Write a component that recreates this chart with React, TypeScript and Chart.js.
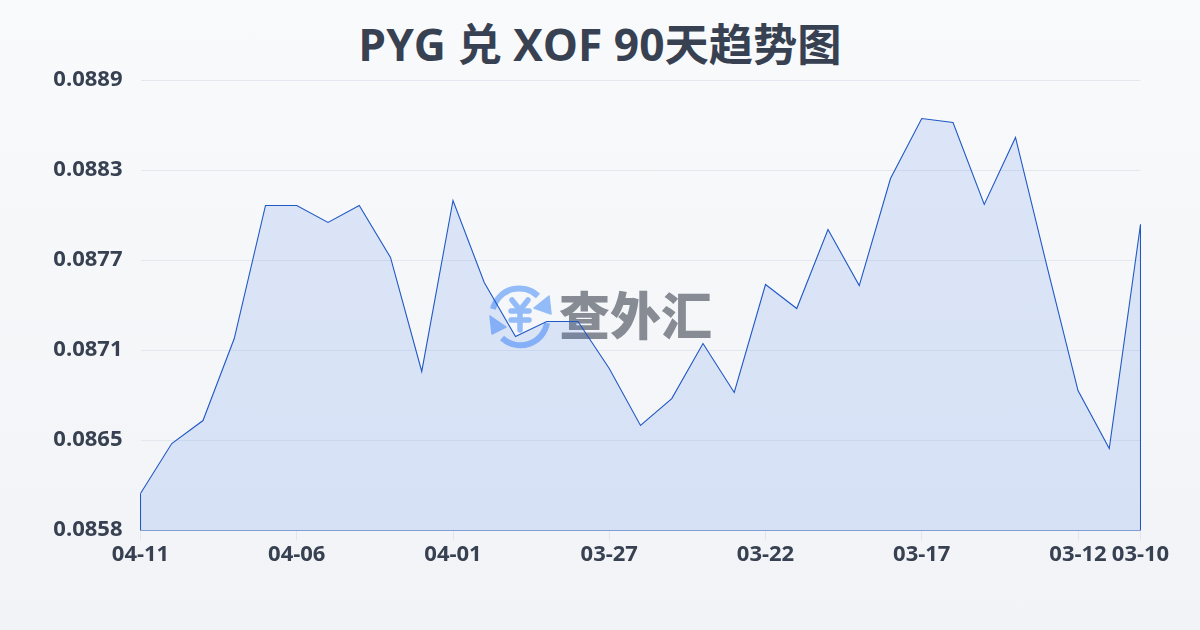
import React, { useEffect, useRef } from "react";
import { Chart, registerables } from "chart.js";

Chart.register(...registerables);

const categories = ["04-11","04-10","04-09","04-08","04-07","04-06","04-05","04-04","04-03","04-02","04-01","03-31","03-30","03-29","03-28","03-27","03-26","03-25","03-24","03-23","03-22","03-21","03-20","03-19","03-18","03-17","03-16","03-15","03-14","03-13","03-12","03-11","03-10"];
const rates = [0.086094,0.086437,0.086595,0.087158,0.088072,0.088072,0.087955,0.088072,0.087715,0.086932,0.088106,0.087543,0.087172,0.087275,0.087275,0.086952,0.086561,0.086746,0.087124,0.086788,0.087529,0.087364,0.087907,0.087522,0.088257,0.088669,0.088642,0.088079,0.088539,0.08766,0.086801,0.086403,0.087941];
const yTicks = [0.08584,0.086458,0.087076,0.087694,0.088312,0.08893];
const shownDates = ["04-11","04-06","04-01","03-27","03-22","03-17","03-12","03-10"];
const titleText = "PYG 兑 XOF 90天趋势图";
const watermarkText = "查外汇";

const FONT = '"Open Sans","Noto Sans CJK SC",sans-serif';
const INK = "#374151";
const LINE = "#2058c4";
const LOGO = "#93bbf8";

export default function App() {
  const ref = useRef<HTMLCanvasElement>(null);
  useEffect(() => {
    const first = categories[0];
    const last = categories[categories.length - 1];
    const chart = new Chart(ref.current!, {
      type: "line",
      data: {
        labels: categories,
        datasets: [
          {
            data: rates,
            borderColor: LINE,
            borderWidth: 1.1,
            backgroundColor: "rgba(37,99,235,0.13)",
            fill: "start",
            tension: 0,
            pointRadius: 0,
          },
          {
            data: [
              { x: first, y: rates[0] },
              { x: first, y: yTicks[0] },
              { x: last, y: yTicks[0] },
              { x: last, y: rates[rates.length - 1] },
            ],
            borderColor: LINE,
            borderWidth: 1.1,
            fill: false,
            tension: 0,
            pointRadius: 0,
          },
        ],
      } as any,
      options: {
        responsive: false,
        animation: false,
        layout: { padding: { left: 0, right: 59.5, top: 80.5, bottom: 0 } },
        plugins: {
          legend: { display: false },
          tooltip: { enabled: false },
          title: { display: false },
        },
        scales: {
          x: {
            grid: { drawOnChartArea: false, color: "#e2e6ec", tickLength: 10 },
            border: { display: false },
            afterBuildTicks: (axis: any) => {
              axis.ticks = axis.ticks.filter((t: any) => shownDates.includes(categories[t.value]));
            },
            ticks: {
              autoSkip: false,
              maxRotation: 0,
              color: INK,
              padding: 1,
              font: { family: FONT, size: 22, weight: "bold" },
            },
            afterFit: (axis: any) => {
              axis.height = 99.5;
            },
          },
          y: {
            min: yTicks[0],
            max: yTicks[yTicks.length - 1],
            grid: { color: "#e4e8ee", drawTicks: false, lineWidth: 1 },
            border: { display: false },
            afterBuildTicks: (axis: any) => {
              axis.ticks = yTicks.map((value) => ({ value }));
            },
            ticks: {
              color: INK,
              padding: 18,
              labelOffset: -1,
              font: { family: FONT, size: 22, weight: "bold" },
              callback: (v: any) => Number(v).toFixed(4),
            },
            afterFit: (axis: any) => {
              axis.width = 140.5;
            },
          },
        },
      },
    });
    return () => chart.destroy();
  }, []);

  return (
    <div style={{ position: "fixed", inset: 0, width: 1200, height: 630, background: "linear-gradient(180deg,#f8fafc,#f1f3f6)", overflow: "hidden" }}>
      <div style={{ position: "absolute", left: 0, top: 11, width: 1200, textAlign: "center", fontFamily: FONT, fontWeight: 700, fontSize: 44.3, lineHeight: "66px", color: INK, whiteSpace: "nowrap" }}>
        {titleText}
      </div>
      <svg width="66" height="66" viewBox="0 0 66 66" style={{ position: "absolute", left: 488, top: 284 }}>
        <g fill="none" stroke={LOGO} strokeWidth="6">
          <path d="M5 25 A27 27 0 0 1 50 12" />
          <path d="M59 39 A27 27 0 0 1 14 54" />
        </g>
        <path d="M61 12 L63 30 L46 24 Z" fill={LOGO} stroke={LOGO} strokeWidth="1.5" strokeLinejoin="round" />
        <path d="M2 32 L18 43 L4 50 Z" fill={LOGO} stroke={LOGO} strokeWidth="1.5" strokeLinejoin="round" />
        <g fill="none" stroke={LOGO} strokeWidth="5.5" strokeLinecap="round">
          <path d="M24 16 L32 26 L40 16" />
          <path d="M32 26 V46" />
          <path d="M23 27 H41" />
          <path d="M23 36 H41" />
        </g>
      </svg>
      <div style={{ position: "absolute", left: 559, top: 278, fontFamily: '"Noto Sans CJK SC",sans-serif', fontWeight: 900, fontSize: 51, lineHeight: "70px", color: "#878b94", whiteSpace: "nowrap" }}>
        {watermarkText}
      </div>
      <canvas ref={ref} width={1200} height={630} style={{ position: "absolute", left: 0, top: 0, display: "block" }} />
    </div>
  );
}
